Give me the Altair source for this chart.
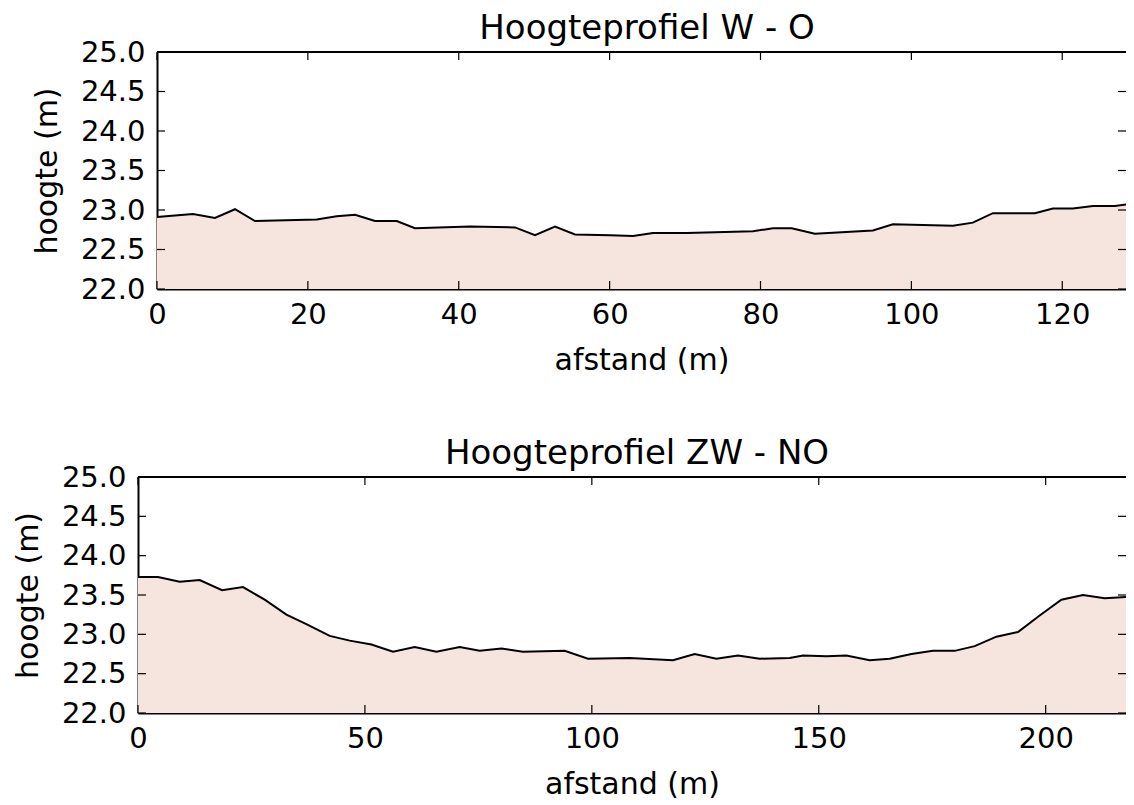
import altair as alt
import pandas as pd

# ---- data: profile W - O ----
wo_afstand = [0, 4.77, 7.69, 10.34, 12.99, 21.17, 23.82, 26.25, 28.9, 31.78, 34.2,
              41.49, 47.46, 50.11, 52.76, 55.41, 60.05, 63.1, 65.75, 70.22, 79.0,
              81.65, 84.13, 87.2, 94.9, 97.55, 105.5, 108.15, 110.8, 116.37, 118.76,
              121.41, 124.07, 126.98, 129.37]
wo_hoogte = [22.91, 22.95, 22.90, 23.01, 22.86, 22.88, 22.92, 22.94, 22.86, 22.86, 22.77,
             22.79, 22.78, 22.68, 22.79, 22.69, 22.68, 22.67, 22.71, 22.71, 22.73,
             22.77, 22.77, 22.70, 22.74, 22.82, 22.80, 22.84, 22.96, 22.96, 23.02,
             23.02, 23.05, 23.05, 23.08]

# ---- data: profile ZW - NO ----
zwno_afstand = [0, 4.41, 9.19, 13.59, 18.51, 23.14, 27.92, 32.7, 37.1, 42.24, 46.65,
                51.43, 56.19, 60.97, 65.75, 70.88, 75.29, 80.07, 84.83, 94.02, 99.15,
                108.34, 117.88, 122.66, 127.44, 132.2, 136.99, 143.6, 146.53, 151.68,
                156.09, 161.22, 165.63, 170.41, 175.17, 179.95, 184.36, 189.14, 193.9,
                198.68, 203.46, 208.22, 213.0, 219.24]
zwno_hoogte = [23.73, 23.73, 23.67, 23.69, 23.56, 23.60, 23.44, 23.25, 23.13, 22.98, 22.92,
               22.87, 22.78, 22.84, 22.78, 22.84, 22.79, 22.82, 22.78, 22.79, 22.69,
               22.70, 22.67, 22.75, 22.69, 22.73, 22.69, 22.70, 22.73, 22.72,
               22.73, 22.67, 22.69, 22.75, 22.79, 22.79, 22.85, 22.97, 23.03,
               23.24, 23.44, 23.50, 23.46, 23.48]

y_ticks = [22.0, 22.5, 23.0, 23.5, 24.0, 24.5, 25.0]
wo_x_ticks = [0, 20, 40, 60, 80, 100, 120]
zwno_x_ticks = [0, 50, 100, 150, 200]
y_domain = [22.0, 25.0]
wo_x_max = 128.45
zwno_x_max = 217.7

titles = ["Hoogteprofiel W - O", "Hoogteprofiel ZW - NO"]

FONT = "DejaVu Sans"
FILL = "#f6e4de"
TICK = 8
W = 988


def panel(xv, yv, xmax, xticks, title, H, inset, title_dx):
    df = pd.DataFrame({"afstand": xv, "hoogte": yv})
    xs = alt.Scale(domain=[0, xmax], range=[inset, W], nice=False, zero=False)
    ys = alt.Scale(domain=y_domain, nice=False, zero=False)
    xaxis = alt.Axis(values=xticks, title="afstand (m)", format="d",
                     labelPadding=11, titlePadding=16)
    yaxis = alt.Axis(values=y_ticks, title="hoogte (m)", format=".1f",
                     labelPadding=12, titlePadding=18, offset=-inset)
    X = lambda: alt.X("afstand:Q", scale=xs, axis=xaxis)
    Y = lambda: alt.Y("hoogte:Q", scale=ys, axis=yaxis)
    area = alt.Chart(df).mark_area(color=FILL, opacity=1, clip=True).encode(
        x=X(), y=Y(), y2=alt.datum(y_domain[0]))
    line = alt.Chart(df).mark_line(color="black", strokeWidth=2, clip=True).encode(
        x=X(), y=Y())
    ydf = pd.DataFrame({"hoogte": y_ticks})
    xdf = pd.DataFrame({"afstand": xticks})
    rule = dict(color="black", strokeWidth=1.2)
    lt = alt.Chart(ydf).mark_rule(**rule).encode(
        y=Y(), x=alt.value(inset), x2=alt.value(inset + TICK))
    rt = alt.Chart(ydf).mark_rule(**rule).encode(
        y=Y(), x=alt.value(W - TICK), x2=alt.value(W))
    bt = alt.Chart(xdf).mark_rule(**rule).encode(
        x=X(), y=alt.value(H - TICK), y2=alt.value(H))
    tt = alt.Chart(xdf).mark_rule(**rule).encode(
        x=X(), y=alt.value(0), y2=alt.value(TICK))
    border = alt.Chart(pd.DataFrame({"b": [0]})).mark_rule(
        color="black", strokeWidth=2).encode(
        x=alt.value(inset), x2=alt.value(W), y=alt.value(0))
    return alt.layer(area, line, lt, rt, bt, tt, border).properties(
        width=W, height=H,
        title=alt.Title(title, fontSize=34, font=FONT, fontWeight="normal",
                        color="black", offset=-8, dx=title_dx),
    )


top = panel(wo_afstand, wo_hoogte, wo_x_max, wo_x_ticks, titles[0], 237, 19, 15)
bottom = panel(zwno_afstand, zwno_hoogte, zwno_x_max, zwno_x_ticks, titles[1], 236, 0, 5)

chart = alt.vconcat(top, bottom, spacing=62).properties(
    padding={"left": 5, "top": 4, "right": -1, "bottom": 0},
).configure_view(strokeWidth=0).configure_axis(
    grid=False, ticks=False, tickSize=0, domain=True, domainColor="black",
    domainWidth=2, labelFont=FONT, titleFont=FONT, labelFontSize=29,
    titleFontSize=30, labelColor="black", titleColor="black",
    titleFontWeight="normal", labelOverlap=False,
).configure_axisX(labelFlush=False)

chart.save("out.html", embed_options={"renderer": "svg", "actions": False})
